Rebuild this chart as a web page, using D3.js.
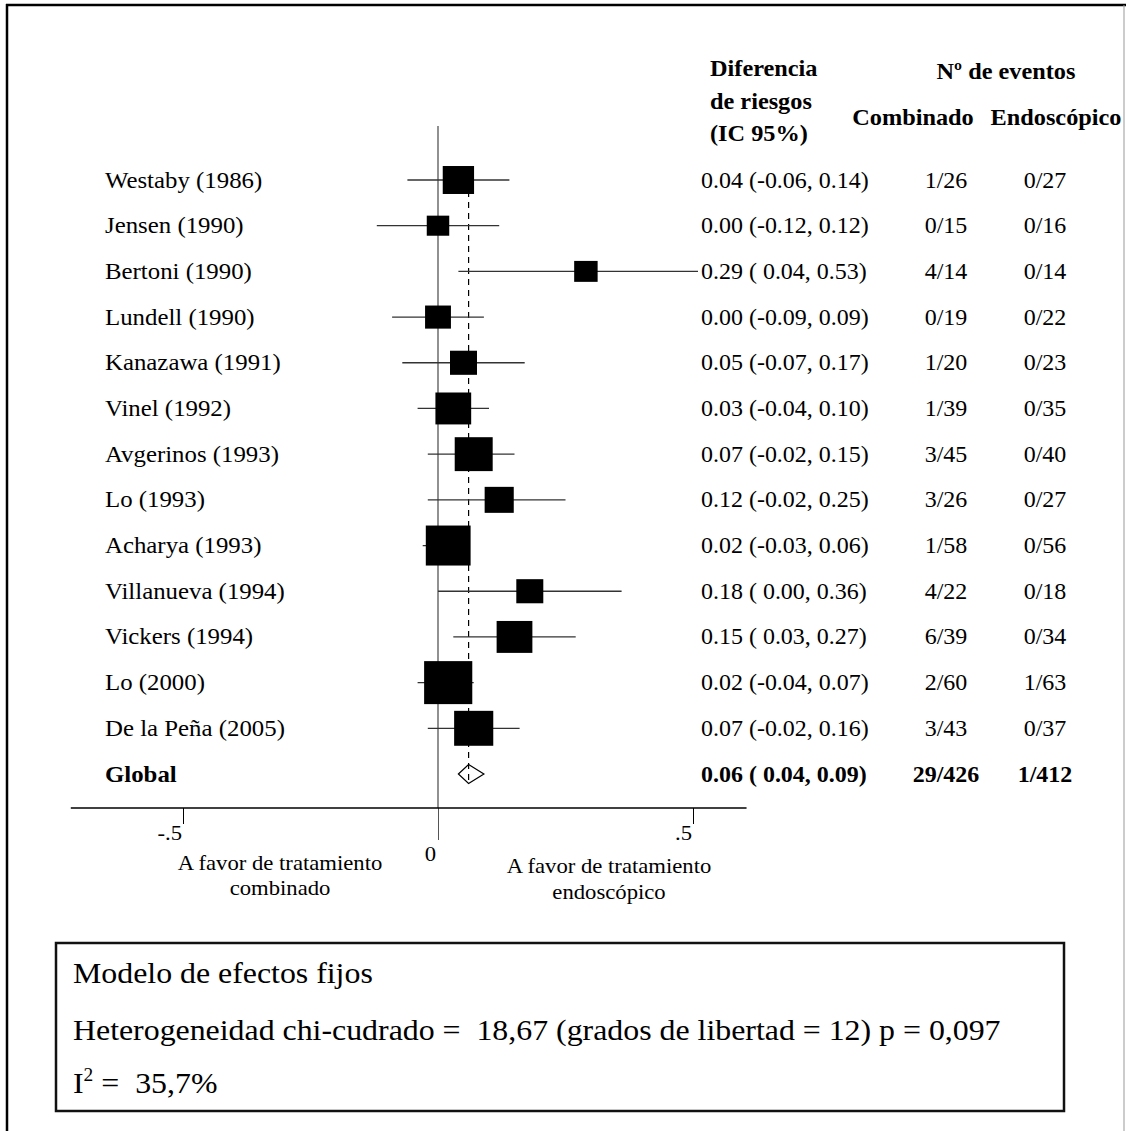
<!DOCTYPE html>
<html>
<head>
<meta charset="utf-8">
<script src="https://cdn.jsdelivr.net/npm/d3@7"></script>
<style>
  body { margin: 0; background: #fff; }
  text { font-family: "Liberation Serif", "Times New Roman", serif; white-space: pre; fill: #000; }
</style>
</head>
<body>
<svg id="chart" width="1126" height="1131"></svg>
<script>
// ** DATA ** //
const studies = ["Westaby (1986)", "Jensen (1990)", "Bertoni (1990)", "Lundell (1990)",
  "Kanazawa (1991)", "Vinel (1992)", "Avgerinos (1993)", "Lo (1993)", "Acharya (1993)",
  "Villanueva (1994)", "Vickers (1994)", "Lo (2000)", "De la Peña (2005)"];
const riskDiff = [0.04, 0.00, 0.29, 0.00, 0.05, 0.03, 0.07, 0.12, 0.02, 0.18, 0.15, 0.02, 0.07];
const ciLow = [-0.06, -0.12, 0.04, -0.09, -0.07, -0.04, -0.02, -0.02, -0.03, 0.00, 0.03, -0.04, -0.02];
const ciHigh = [0.14, 0.12, 0.53, 0.09, 0.17, 0.10, 0.15, 0.25, 0.06, 0.36, 0.27, 0.07, 0.16];
const weights = [6.6, 3.4, 3.7, 4.5, 4.9, 8.6, 9.7, 5.7, 13.5, 4.9, 8.6, 15.6, 10.3];
const eventsCombinado = ["1/26", "0/15", "4/14", "0/19", "1/20", "1/39", "3/45", "3/26", "1/58", "4/22", "6/39", "2/60", "3/43"];
const eventsEndoscopico = ["0/27", "0/16", "0/14", "0/22", "0/23", "0/35", "0/40", "0/27", "0/56", "0/18", "0/34", "1/63", "0/37"];
const globalLabel = "Global";
const globalEstimate = [0.06, 0.04, 0.09]; // rd, low, high
const globalEvents = ["29/426", "1/412"];
const tickValues = [-0.5, 0, 0.5];
const tickLabels = ["-.5", "0", ".5"];
const axisExtent = [-0.72, 0.605];

const svg = d3.select("#chart");
const stretch = 1.08; // text in the original is drawn slightly wide
const boxStretch = 1.12; // and so are the squares

// ** SCALES ** //
const x = d3.scaleLinear().domain([-0.5, 0.5]).range([183, 693]);
const rows = studies.concat([globalLabel]);
const y = d3.scalePoint().domain(rows).range([180, 774]);
const boxSize = d3.scaleSqrt().domain([0, d3.max(weights)]).range([0, 43]);
const fmt = d3.formatLocale({ decimal: ".", thousands: ",", grouping: [3], currency: ["", ""], minus: "-" }).format(".2f");
const ciText = (m, l, h) => `${fmt(m)} (${l >= 0 ? " " : ""}${fmt(l)}, ${fmt(h)})`;

const addText = (str, px, py, size, opts = {}) => svg.append("text")
  .attr("transform", `translate(${px},${py}) scale(${stretch},1)`)
  .attr("font-size", size)
  .attr("font-weight", opts.bold ? "bold" : null)
  .attr("text-anchor", opts.anchor || "start")
  .text(str);

// ** FRAME ** //
svg.append("line").attr("x1", 6).attr("y1", 5).attr("x2", 1126).attr("y2", 5)
  .attr("stroke", "#000").attr("stroke-width", 2.5);
svg.append("line").attr("x1", 7).attr("y1", 4).attr("x2", 7).attr("y2", 1131)
  .attr("stroke", "#000").attr("stroke-width", 2.5);
svg.append("line").attr("x1", 1124).attr("y1", 5).attr("x2", 1124).attr("y2", 1131)
  .attr("stroke", "#999").attr("stroke-width", 1);

svg.append("clipPath").attr("id", "plotClip")
  .append("rect").attr("x", 0).attr("y", 0).attr("width", 698).attr("height", 1131);

// ** PLOT ** //
svg.append("line")
  .attr("x1", x(0)).attr("x2", x(0)).attr("y1", 126).attr("y2", 808)
  .attr("stroke", "#555").attr("stroke-width", 1.3);

svg.append("line")
  .attr("x1", x(globalEstimate[0])).attr("x2", x(globalEstimate[0]))
  .attr("y1", y(studies[0])).attr("y2", y(globalLabel) + 8)
  .attr("stroke", "#000").attr("stroke-width", 1.2).attr("stroke-dasharray", "6,5");

const idx = d3.range(studies.length);

svg.append("g").attr("clip-path", "url(#plotClip)")
  .selectAll("line").data(idx).enter().append("line")
  .attr("x1", i => x(ciLow[i])).attr("x2", i => x(ciHigh[i]))
  .attr("y1", i => y(studies[i])).attr("y2", i => y(studies[i]))
  .attr("stroke", "#333").attr("stroke-width", 1.3);

svg.append("g").selectAll("rect").data(idx).enter().append("rect")
  .attr("x", i => x(riskDiff[i]) - boxSize(weights[i]) * boxStretch / 2)
  .attr("y", i => y(studies[i]) - boxSize(weights[i]) / 2)
  .attr("width", i => boxSize(weights[i]) * boxStretch)
  .attr("height", i => boxSize(weights[i]))
  .attr("fill", "#000");

const gy = y(globalLabel);
svg.append("path")
  .attr("d", `M${x(globalEstimate[1])},${gy} L${x(globalEstimate[0])},${gy - 9.5} L${x(globalEstimate[2])},${gy} L${x(globalEstimate[0])},${gy + 9.5} Z`)
  .attr("fill", "none").attr("stroke", "#000").attr("stroke-width", 1.2);

// ** AXIS ** //
const axis = svg.append("g").attr("transform", "translate(0,808)")
  .call(d3.axisBottom(x).tickValues(tickValues).tickSize(16).tickFormat(""));
axis.select(".domain").remove();
axis.selectAll(".tick line").attr("stroke", "#000").attr("stroke-width", 1)
  .filter(d => d === 0).attr("y2", 32).attr("stroke", "#555");
axis.append("line")
  .attr("x1", x(axisExtent[0])).attr("x2", x(axisExtent[1]))
  .attr("stroke", "#000").attr("stroke-width", 1.3);

tickValues.forEach((v, i) => {
  addText(tickLabels[i], x(v) - (v === 0 ? 2 : 1), v === 0 ? 861 : 840, 21, { anchor: "end" });
});

addText("A favor de tratamiento", 280, 870, 21, { anchor: "middle" });
addText("combinado", 280, 895, 21, { anchor: "middle" });
addText("A favor de tratamiento", 609, 873, 21, { anchor: "middle" });
addText("endoscópico", 609, 899, 21, { anchor: "middle" });

// ** HEADERS ** //
addText("Diferencia", 710, 76, 22.5, { bold: true });
addText("de riesgos", 710, 109, 22.5, { bold: true });
addText("(IC 95%)", 710, 141, 22.5, { bold: true });
addText("Nº de eventos", 1006, 79, 22.5, { bold: true, anchor: "middle" });
addText("Combinado", 913, 125, 22.5, { bold: true, anchor: "middle" });
addText("Endoscópico", 1056, 125, 22.5, { bold: true, anchor: "middle" });

// ** ROW TEXT ** //
idx.forEach(i => {
  const ty = y(studies[i]) + 7.5;
  addText(studies[i], 105, ty, 23);
  addText(ciText(riskDiff[i], ciLow[i], ciHigh[i]), 701, ty, 22.2);
  addText(eventsCombinado[i], 946, ty, 22.2, { anchor: "middle" });
  addText(eventsEndoscopico[i], 1045, ty, 22.2, { anchor: "middle" });
});
addText(globalLabel, 105, gy + 7.5, 23, { bold: true });
addText(ciText(...globalEstimate), 701, gy + 7.5, 22.2, { bold: true });
addText(globalEvents[0], 946, gy + 7.5, 22.2, { bold: true, anchor: "middle" });
addText(globalEvents[1], 1045, gy + 7.5, 22.2, { bold: true, anchor: "middle" });

// ** MODEL BOX ** //
svg.append("rect").attr("x", 56).attr("y", 943).attr("width", 1008).attr("height", 168)
  .attr("fill", "none").attr("stroke", "#111").attr("stroke-width", 2.5);
addText("Modelo de efectos fijos", 73, 983, 29.5);
addText("Heterogeneidad chi-cudrado =  18,67 (grados de libertad = 12) p = 0,097", 73, 1040, 29.5);
const i2 = addText("", 73, 1093, 29.5);
i2.append("tspan").text("I");
i2.append("tspan").attr("font-size", 18).attr("dy", -12).text("2");
i2.append("tspan").attr("dy", 12).text(" =  35,7%");
</script>
</body>
</html>
